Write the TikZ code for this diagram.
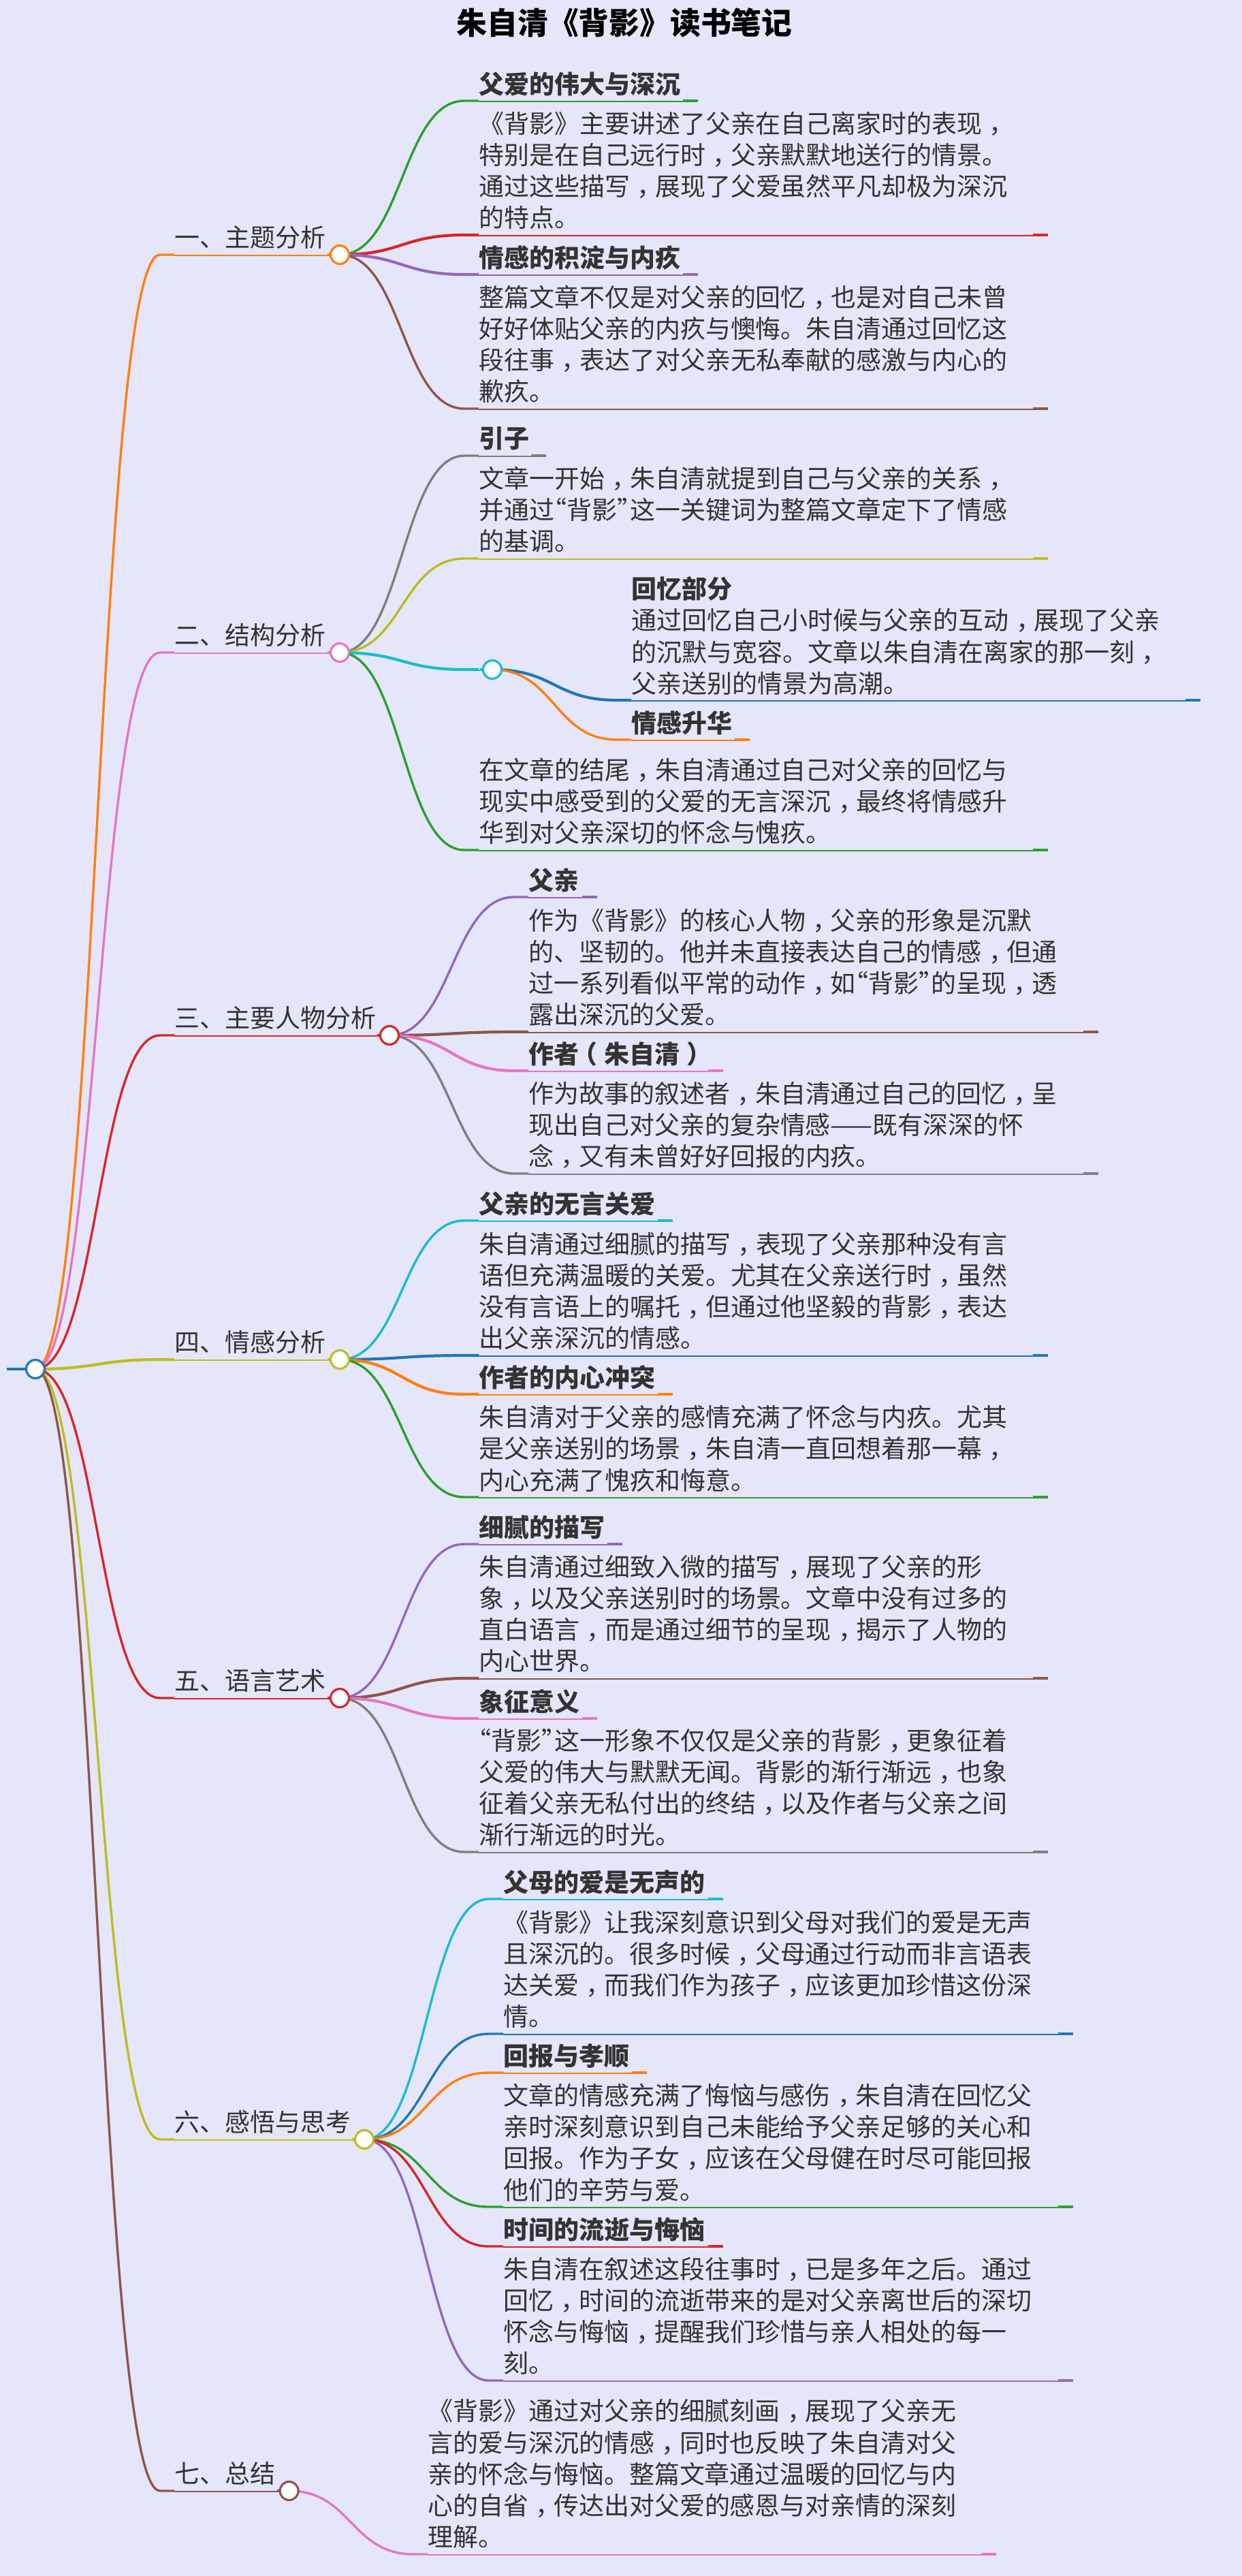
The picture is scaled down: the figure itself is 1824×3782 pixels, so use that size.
\documentclass[tikz,border=0pt]{standalone}
\usepackage{fontspec}
\setmainfont{Noto Sans CJK SC}
\definecolor{bg}{HTML}{E6E6FA}
\definecolor{cgreen}{HTML}{2CA02C}
\definecolor{cred}{HTML}{D62728}
\definecolor{cpurple}{HTML}{9467BD}
\definecolor{cbrown}{HTML}{8C564B}
\definecolor{corange}{HTML}{FF7F0E}
\definecolor{cblue}{HTML}{1F77B4}
\definecolor{cpink}{HTML}{E377C2}
\definecolor{cgray}{HTML}{7F7F7F}
\definecolor{colive}{HTML}{BCBD22}
\definecolor{ccyan}{HTML}{17BECF}
\definecolor{txt}{HTML}{333333}
\pgfdeclarelayer{lines}
\pgfsetlayers{lines,main}
\tikzset{x=0.5pt,y=-0.5pt,
 bodytext/.style={anchor=north west,inner sep=0pt,align=left,text=txt,font=\fontsize{18.48}{23.1}\selectfont},
 headtext/.style={bodytext,font=\fontsize{18.48}{23.1}\selectfont\bfseries},
 hub/.style={circle,draw=#1,fill=white,line width=1.6pt,minimum size=13.5pt,inner sep=0pt,outer sep=0pt},
 curveline/.style={line width=1.7pt},
 flatcurve/.style={line width=2.1pt},
 underl/.style={line width=1.3pt},
 stubl/.style={line width=1.8pt}}
% punctuation placed in its cell as in the picture
\newcommand\cc{\kern.28em，\kern-.28em}
\newcommand\plp{\kern-.28em（\kern.28em}
\newcommand\prp{\kern.28em）\kern-.28em}
\newcommand\qlq{\kern-.5em“}
\newcommand\qrq{”\kern-.5em}
% #1 parent node, #2 name, #3 colour, #4 curve style, #5 parent x, #6 parent y, #7 text x, #8 y, #9 end x
\newcommand\lnk[9]{%
 \pgfmathsetmacro\tgx{#7-21}%
 \pgfmathsetmacro\midx{(#5+\tgx)/2}%
 \pgfmathsetmacro\stx{#9-22}%
 \pgfmathsetmacro\uly{#8+1}%
 \coordinate (#2t) at (\tgx,#8);
 \coordinate (#2s) at (#7,#8);
 \coordinate (#2u) at (#7,\uly);
 \coordinate (#2v) at (#9,\uly);
 \coordinate (#2w) at (\stx,#8);
 \coordinate (#2e) at (#9,#8);
 \begin{pgfonlayer}{lines}
 \draw[#3,#4] (#1.center) .. controls (\midx,#6) and (\midx,#8) .. (#2t) -- (#2s);
 \draw[#3,underl] (#2u) -- (#2v);
 \draw[#3,stubl] (#2w) -- (#2e);
 \end{pgfonlayer}}
% #1 name, #2 style, #3 x, #4 underline y, #5 lines, #6 text
\newcommand\txt[6]{%
 \pgfmathsetmacro\tpy{#4-43-46.2*(#5-1)}%
 \node[#2] (#1) at (#3,\tpy) {\rule{0pt}{15pt}#6};}
\begin{document}
\begin{tikzpicture}
\begin{pgfonlayer}{lines}
\useasboundingbox[fill=bg] (0,0) rectangle (1824,3782);
\end{pgfonlayer}
\node[inner sep=0pt,text=black,font=\fontsize{22.4}{26}\selectfont\bfseries] (title) at (917,33) {朱自清《背影》读书笔记};
% hubs
\node[hub=cblue] (root) at (52,2010) {};
\node[hub=corange] (h1) at (499,374) {};
\node[hub=cpink] (h2) at (499,958) {};
\node[hub=ccyan] (h2b) at (723,983) {};
\node[hub=cred] (h3) at (572,1520) {};
\node[hub=colive] (h4) at (499,1996) {};
\node[hub=cred] (h5) at (499,2493) {};
\node[hub=colive] (h6) at (535,3141) {};
\node[hub=cbrown] (h7) at (424.6,3657) {};
\coordinate (rootin) at (10,2010);
\begin{pgfonlayer}{lines}
\draw[cblue,line width=2.4pt] (rootin) -- (root.center);
\end{pgfonlayer}
% sections
\lnk{root}{sa}{corange}{curveline}{52}{2010}{256}{374}{503}
\lnk{root}{sb}{cpink}{curveline}{52}{2010}{256}{958}{503}
\lnk{root}{sc}{cred}{curveline}{52}{2010}{256}{1520}{576}
\lnk{root}{sd}{colive}{flatcurve}{52}{2010}{256}{1996}{503}
\lnk{root}{se}{cred}{curveline}{52}{2010}{256}{2493}{503}
\lnk{root}{sf}{colive}{curveline}{52}{2010}{256}{3141}{539}
\lnk{root}{sg}{cbrown}{curveline}{52}{2010}{256}{3657}{429}
\txt{la}{bodytext}{256}{374}{1}{一、主题分析}
\txt{lb}{bodytext}{256}{958}{1}{二、结构分析}
\txt{lc}{bodytext}{256}{1520}{1}{三、主要人物分析}
\txt{ld}{bodytext}{256}{1996}{1}{四、情感分析}
\txt{le}{bodytext}{256}{2493}{1}{五、语言艺术}
\txt{lf}{bodytext}{256}{3141}{1}{六、感悟与思考}
\txt{lg}{bodytext}{256}{3657}{1}{七、总结}
% section 1
\lnk{h1}{a1}{cgreen}{curveline}{499}{374}{703}{148}{1025}
\lnk{h1}{a2}{cred}{flatcurve}{499}{374}{703}{345}{1539}
\lnk{h1}{a3}{cpurple}{flatcurve}{499}{374}{703}{403}{1025}
\lnk{h1}{a4}{cbrown}{curveline}{499}{374}{703}{600}{1539}
\txt{ta1}{headtext}{703}{148}{1}{父爱的伟大与深沉}
\txt{ta2}{bodytext}{703}{345}{4}{《背影》主要讲述了父亲在自己离家时的表现\cc\\特别是在自己远行时\cc 父亲默默地送行的情景。\\通过这些描写\cc 展现了父爱虽然平凡却极为深沉\\的特点。}
\txt{ta3}{headtext}{703}{403}{1}{情感的积淀与内疚}
\txt{ta4}{bodytext}{703}{600}{4}{整篇文章不仅是对父亲的回忆\cc 也是对自己未曾\\好好体贴父亲的内疚与懊悔。朱自清通过回忆这\\段往事\cc 表达了对父亲无私奉献的感激与内心的\\歉疚。}
% section 2
\lnk{h2}{b1}{cgray}{curveline}{499}{958}{703}{669}{802}
\lnk{h2}{b2}{colive}{curveline}{499}{958}{703}{820}{1539}
\lnk{h2}{b3}{ccyan}{flatcurve}{499}{958}{703}{983}{727}
\lnk{h2}{b4}{cgreen}{curveline}{499}{958}{703}{1248}{1539}
\lnk{h2b}{b5}{cblue}{flatcurve}{723}{983}{927}{1028}{1763}
\lnk{h2b}{b6}{corange}{curveline}{723}{983}{927}{1086}{1101}
\txt{tb1}{headtext}{703}{669}{1}{引子}
\txt{tb2}{bodytext}{703}{820}{3}{文章一开始\cc 朱自清就提到自己与父亲的关系\cc\\并通过\qlq 背影\qrq 这一关键词为整篇文章定下了情感\\的基调。}
\txt{tb5}{bodytext}{927}{1028}{4}{\textbf{回忆部分}\\通过回忆自己小时候与父亲的互动\cc 展现了父亲\\的沉默与宽容。文章以朱自清在离家的那一刻\cc\\父亲送别的情景为高潮。}
\txt{tb6}{headtext}{927}{1086}{1}{情感升华}
\txt{tb4}{bodytext}{703}{1248}{3}{在文章的结尾\cc 朱自清通过自己对父亲的回忆与\\现实中感受到的父爱的无言深沉\cc 最终将情感升\\华到对父亲深切的怀念与愧疚。}
% section 3
\lnk{h3}{c1}{cpurple}{curveline}{572}{1520}{776}{1317}{877}
\lnk{h3}{c2}{cbrown}{flatcurve}{572}{1520}{776}{1515}{1613}
\lnk{h3}{c3}{cpink}{flatcurve}{572}{1520}{776}{1572}{1062}
\lnk{h3}{c4}{cgray}{curveline}{572}{1520}{776}{1723}{1613}
\txt{tc1}{headtext}{776}{1317}{1}{父亲}
\txt{tc2}{bodytext}{776}{1515}{4}{作为《背影》的核心人物\cc 父亲的形象是沉默\\的、坚韧的。他并未直接表达自己的情感\cc 但通\\过一系列看似平常的动作\cc 如\qlq 背影\qrq 的呈现\cc 透\\露出深沉的父爱。}
\txt{tc3}{headtext}{776}{1572}{1}{作者\plp 朱自清\prp}
\txt{tc4}{bodytext}{776}{1723}{3}{作为故事的叙述者\cc 朱自清通过自己的回忆\cc 呈\\现出自己对父亲的复杂情感——既有深深的怀\\念\cc 又有未曾好好回报的内疚。}
% section 4
\lnk{h4}{d1}{ccyan}{curveline}{499}{1996}{703}{1792}{988}
\lnk{h4}{d2}{cblue}{flatcurve}{499}{1996}{703}{1990}{1539}
\lnk{h4}{d3}{corange}{flatcurve}{499}{1996}{703}{2047}{988}
\lnk{h4}{d4}{cgreen}{curveline}{499}{1996}{703}{2198}{1539}
\txt{td1}{headtext}{703}{1792}{1}{父亲的无言关爱}
\txt{td2}{bodytext}{703}{1990}{4}{朱自清通过细腻的描写\cc 表现了父亲那种没有言\\语但充满温暖的关爱。尤其在父亲送行时\cc 虽然\\没有言语上的嘱托\cc 但通过他坚毅的背影\cc 表达\\出父亲深沉的情感。}
\txt{td3}{headtext}{703}{2047}{1}{作者的内心冲突}
\txt{td4}{bodytext}{703}{2198}{3}{朱自清对于父亲的感情充满了怀念与内疚。尤其\\是父亲送别的场景\cc 朱自清一直回想着那一幕\cc\\内心充满了愧疚和悔意。}
% section 5
\lnk{h5}{e1}{cpurple}{curveline}{499}{2493}{703}{2267}{914}
\lnk{h5}{e2}{cbrown}{flatcurve}{499}{2493}{703}{2464}{1539}
\lnk{h5}{e3}{cpink}{flatcurve}{499}{2493}{703}{2523}{877}
\lnk{h5}{e4}{cgray}{curveline}{499}{2493}{703}{2719}{1539}
\txt{te1}{headtext}{703}{2267}{1}{细腻的描写}
\txt{te2}{bodytext}{703}{2464}{4}{朱自清通过细致入微的描写\cc 展现了父亲的形\\象\cc 以及父亲送别时的场景。文章中没有过多的\\直白语言\cc 而是通过细节的呈现\cc 揭示了人物的\\内心世界。}
\txt{te3}{headtext}{703}{2523}{1}{象征意义}
\txt{te4}{bodytext}{703}{2719}{4}{\qlq 背影\qrq 这一形象不仅仅是父亲的背影\cc 更象征着\\父爱的伟大与默默无闻。背影的渐行渐远\cc 也象\\征着父亲无私付出的终结\cc 以及作者与父亲之间\\渐行渐远的时光。}
% section 6
\lnk{h6}{f1}{ccyan}{curveline}{535}{3141}{739}{2788}{1062}
\lnk{h6}{f2}{cblue}{curveline}{535}{3141}{739}{2986}{1576}
\lnk{h6}{f3}{corange}{curveline}{535}{3141}{739}{3043}{950}
\lnk{h6}{f4}{cgreen}{curveline}{535}{3141}{739}{3240}{1576}
\lnk{h6}{f5}{cred}{curveline}{535}{3141}{739}{3298}{1062}
\lnk{h6}{f6}{cpurple}{curveline}{535}{3141}{739}{3495}{1576}
\txt{tf1}{headtext}{739}{2788}{1}{父母的爱是无声的}
\txt{tf2}{bodytext}{739}{2986}{4}{《背影》让我深刻意识到父母对我们的爱是无声\\且深沉的。很多时候\cc 父母通过行动而非言语表\\达关爱\cc 而我们作为孩子\cc 应该更加珍惜这份深\\情。}
\txt{tf3}{headtext}{739}{3043}{1}{回报与孝顺}
\txt{tf4}{bodytext}{739}{3240}{4}{文章的情感充满了悔恼与感伤\cc 朱自清在回忆父\\亲时深刻意识到自己未能给予父亲足够的关心和\\回报。作为子女\cc 应该在父母健在时尽可能回报\\他们的辛劳与爱。}
\txt{tf5}{headtext}{739}{3298}{1}{时间的流逝与悔恼}
\txt{tf6}{bodytext}{739}{3495}{4}{朱自清在叙述这段往事时\cc 已是多年之后。通过\\回忆\cc 时间的流逝带来的是对父亲离世后的深切\\怀念与悔恼\cc 提醒我们珍惜与亲人相处的每一\\刻。}
% section 7
\lnk{h7}{g1}{cpink}{curveline}{424.6}{3657}{628}{3750}{1463}
\txt{tg1}{bodytext}{628}{3750}{5}{《背影》通过对父亲的细腻刻画\cc 展现了父亲无\\言的爱与深沉的情感\cc 同时也反映了朱自清对父\\亲的怀念与悔恼。整篇文章通过温暖的回忆与内\\心的自省\cc 传达出对父爱的感恩与对亲情的深刻\\理解。}
\end{tikzpicture}
\end{document}
